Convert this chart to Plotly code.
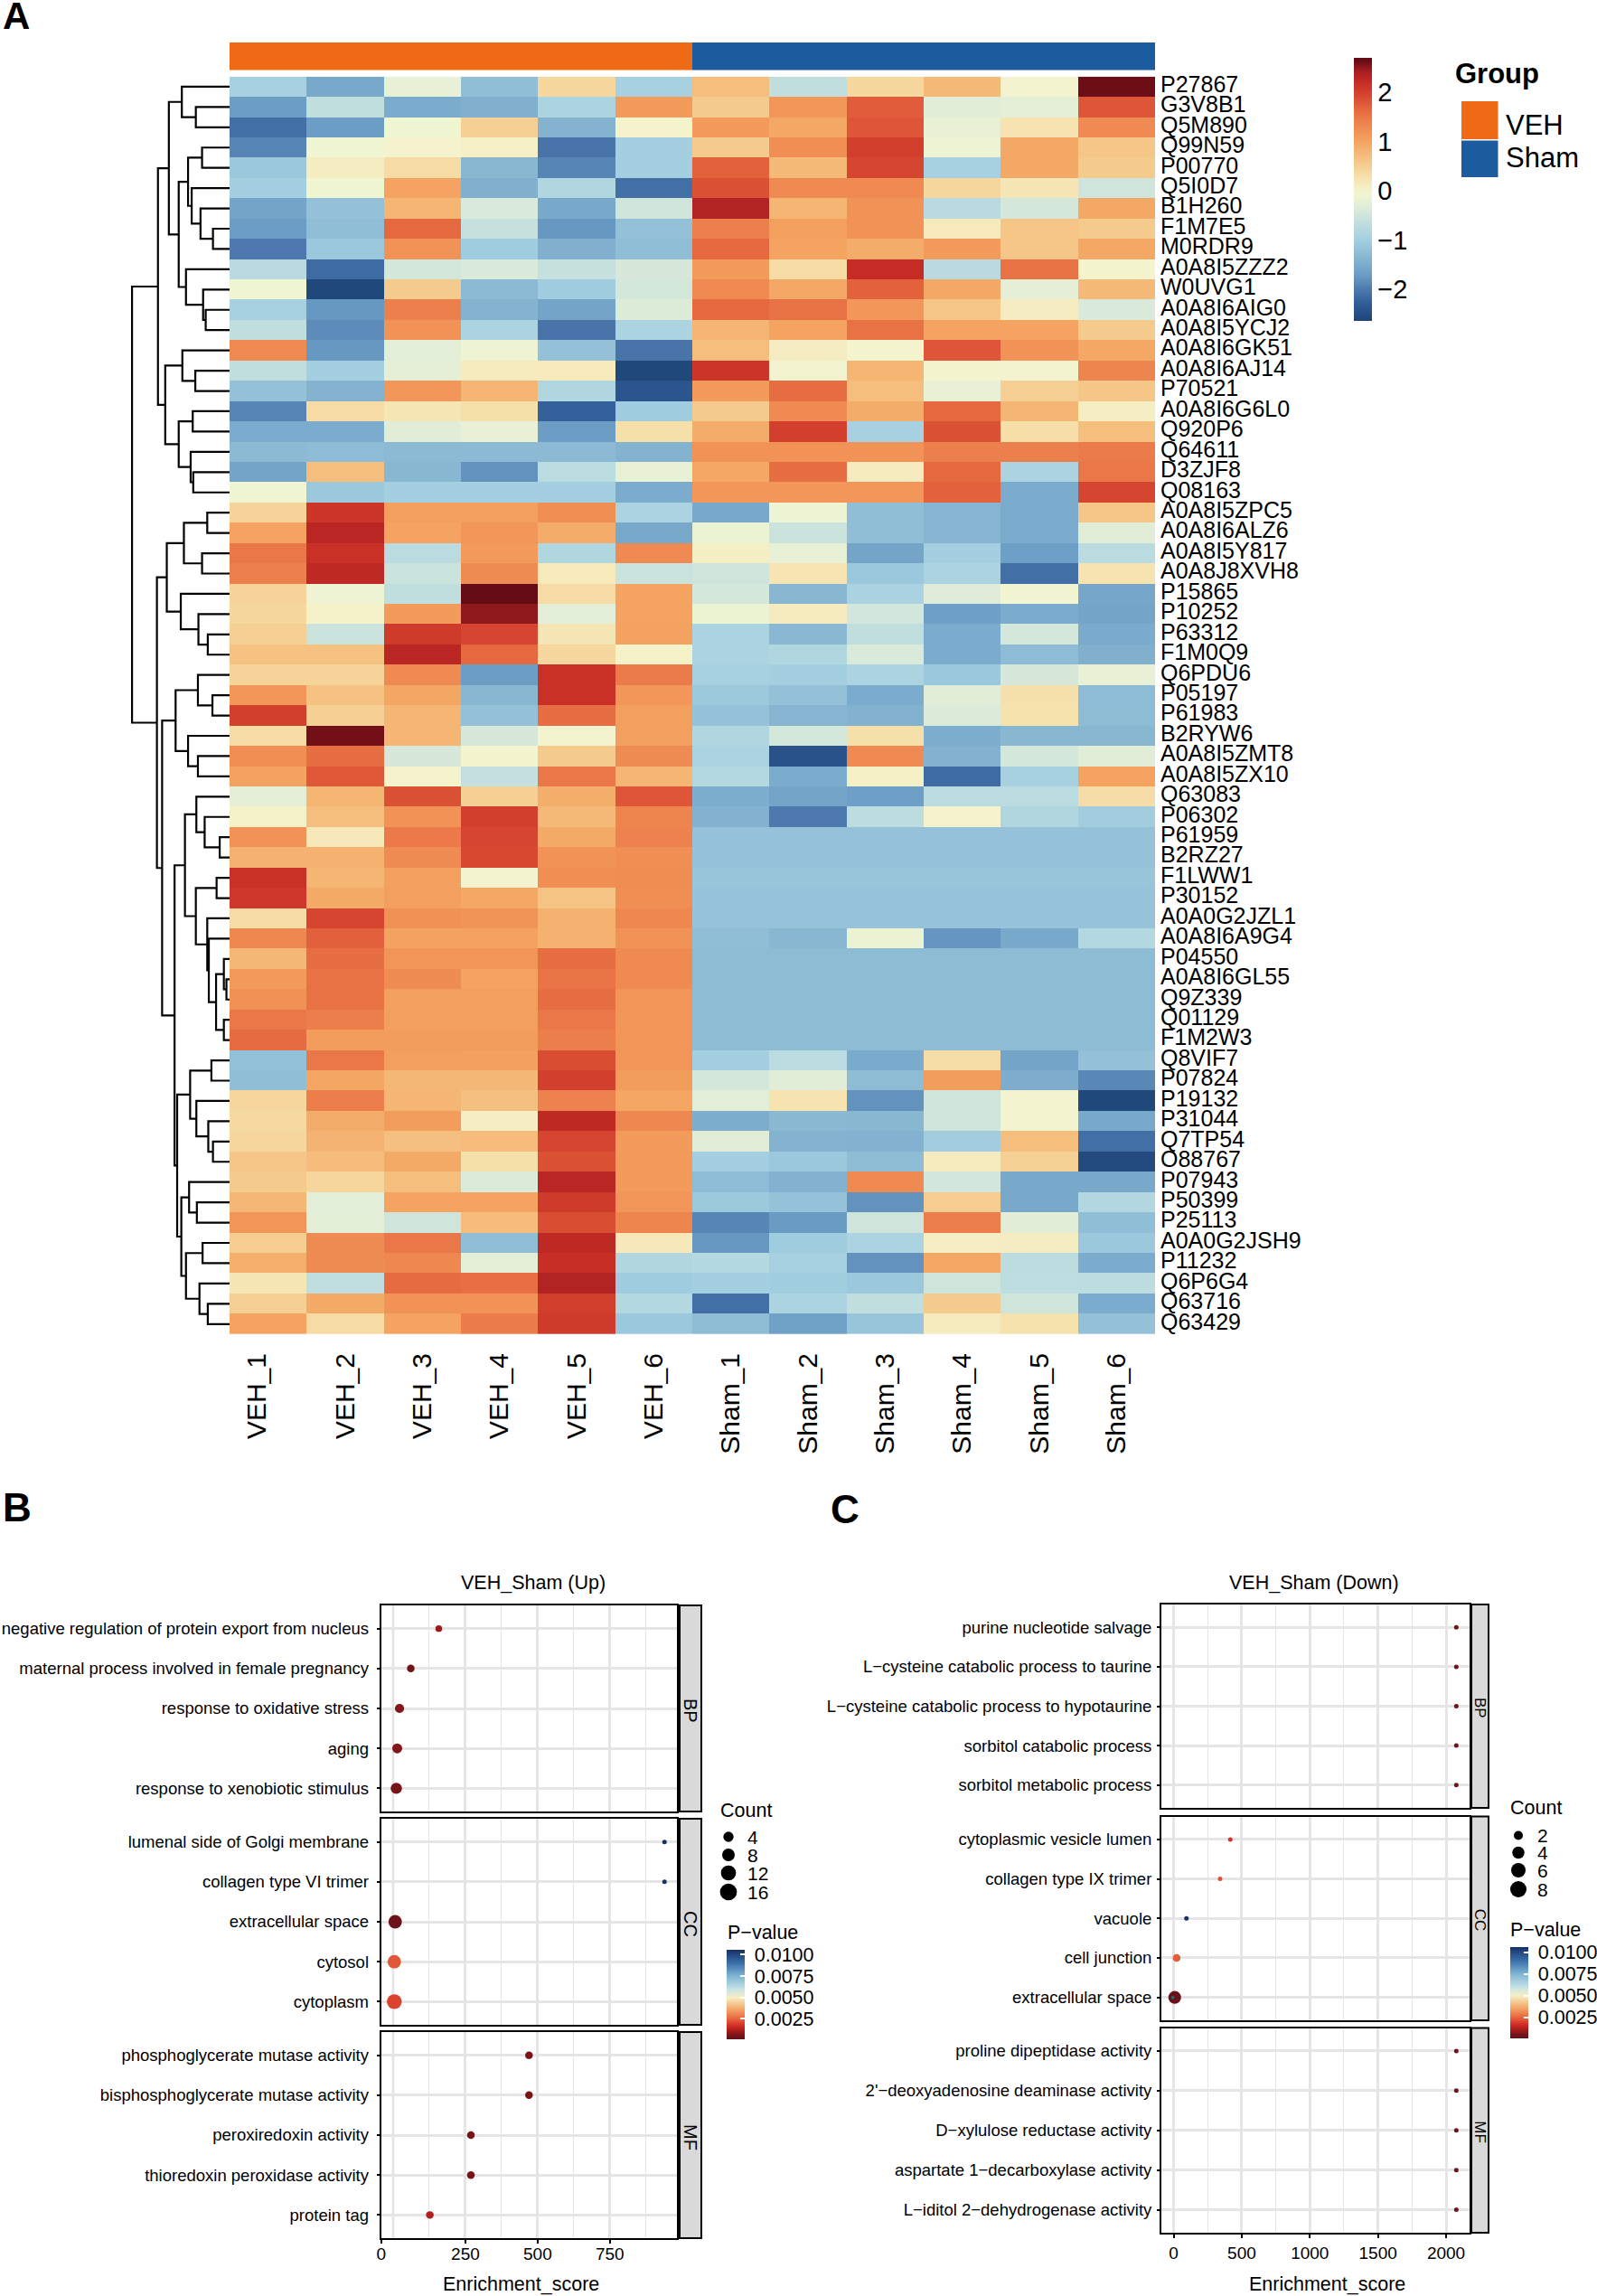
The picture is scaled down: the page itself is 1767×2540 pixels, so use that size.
import plotly.graph_objects as go

W, H = 1767, 2540
FONT = "Liberation Sans"

# ---------- Panel A data ----------
PROTEINS = ["P27867","G3V8B1","Q5M890","Q99N59","P00770","Q5I0D7","B1H260","F1M7E5","M0RDR9","A0A8I5ZZZ2",
"W0UVG1","A0A8I6AIG0","A0A8I5YCJ2","A0A8I6GK51","A0A8I6AJ14","P70521","A0A8I6G6L0","Q920P6","Q64611","D3ZJF8",
"Q08163","A0A8I5ZPC5","A0A8I6ALZ6","A0A8I5Y817","A0A8J8XVH8","P15865","P10252","P63312","F1M0Q9","Q6PDU6",
"P05197","P61983","B2RYW6","A0A8I5ZMT8","A0A8I5ZX10","Q63083","P06302","P61959","B2RZ27","F1LWW1",
"P30152","A0A0G2JZL1","A0A8I6A9G4","P04550","A0A8I6GL55","Q9Z339","Q01129","F1M2W3","Q8VIF7","P07824",
"P19132","P31044","Q7TP54","O88767","P07943","P50399","P25113","A0A0G2JSH9","P11232","Q6P6G4","Q63716","Q63429"]
SAMPLES = ["VEH_1","VEH_2","VEH_3","VEH_4","VEH_5","VEH_6","Sham_1","Sham_2","Sham_3","Sham_4","Sham_5","Sham_6"]
GROUP_CODE = [0,0,0,0,0,0,1,1,1,1,1,1]
B = -1.27
Z = [
[-.95,-1.55,-.2,-1.25,.4,-.95,.7,-.65,.4,.75,-.05,2.62],
[-1.7,-.65,-1.5,-1.45,-.9,1.1,.55,1.15,1.75,-.3,-.25,1.8],
[-2.1,-1.7,-.1,.5,-1.4,0,1.1,.95,1.8,-.2,.25,1.3],
[-1.9,-.1,-.02,.05,-2.05,-1.0,.55,1.25,2.0,-.12,.95,.6],
[-1.1,.1,.35,-1.35,-1.9,-1.0,1.7,.75,1.95,-.95,.95,.55],
[-1.0,-.1,1.0,-1.45,-.85,-2.1,1.85,1.3,1.3,.4,.2,-.5],
[-1.6,-1.2,.8,-.4,-1.55,-.5,2.35,.8,1.2,-.75,-.45,.95],
[-1.7,-1.25,1.65,-.6,-1.75,-1.2,1.4,1.05,1.2,.15,.6,.55],
[-2.0,-1.1,1.2,-1.05,-1.45,-1.25,1.65,1.0,.9,1.1,.6,.95],
[-.75,-2.15,-.45,-.4,-.6,-.42,1.1,.35,2.2,-.75,1.55,-.03],
[-.1,-2.6,.55,-1.3,-1.05,-.45,1.3,.95,1.7,.95,-.25,.75],
[-.95,-1.75,1.4,-1.4,-1.6,-.35,1.65,1.55,1.15,.6,.1,-.4],
[-.65,-1.85,1.2,-.9,-2.05,-.9,.8,1.0,1.55,1.0,1.0,.55],
[1.3,-1.75,-.28,-.12,-1.2,-2.05,.7,.1,-.03,1.8,1.2,.95],
[-.65,-1.0,-.25,.12,.15,-2.6,2.1,-.05,.8,-.03,-.05,1.35],
[-1.2,-1.4,1.15,.8,-.85,-2.4,1.1,1.6,.7,-.2,.5,.6],
[-1.9,.35,.2,.3,-2.25,-1.05,.55,1.3,.9,1.65,.8,.08],
[-1.5,-1.5,-.3,-.2,-1.7,.3,.9,2.0,-.95,1.85,.32,.7],
[-1.3,-1.28,-1.3,-1.3,-1.3,-1.4,1.2,1.2,1.2,1.4,1.4,1.45],
[-1.6,.7,-1.35,-1.8,-.72,-.2,.95,1.6,.12,1.65,-.9,1.5],
[-.1,-1.1,-1.0,-1.0,-1.0,-1.5,1.15,1.15,1.15,1.7,-1.5,1.95],
[.45,2.1,1.05,1.05,1.25,-.9,-1.55,-.12,-1.25,-1.38,-1.5,.6],
[1.0,2.3,1.0,1.15,.9,-1.55,-.15,-.55,-1.25,-1.38,-1.5,-.3],
[1.5,2.15,-.72,1.1,-.85,1.3,.06,-.2,-1.6,-1.0,-1.68,-.72],
[1.4,2.25,-.55,1.28,.15,-.55,-.5,.22,-1.1,-.9,-2.1,.25],
[.45,-.12,-.65,2.65,.35,1.0,-.45,-1.35,-.92,-.33,-.08,-1.58],
[.4,.02,1.1,2.5,-.28,1.0,-.15,.12,-.47,-1.68,-1.5,-1.6],
[.5,-.55,2.05,1.95,.2,1.02,-.9,-1.33,-.65,-1.5,-.45,-1.52],
[.65,.65,2.3,1.65,.4,.02,-.9,-.85,-.4,-1.5,-1.28,-1.45],
[.45,.45,1.3,-1.7,2.15,1.45,-.95,-1.0,-.9,-1.1,-.42,-.2],
[1.15,.65,.97,-1.35,2.15,1.15,-1.08,-1.2,-1.5,-.3,.28,-1.28],
[2.0,.5,.8,-1.2,1.6,1.05,-1.18,-1.38,-1.42,-.37,.27,-1.27],
[.35,2.6,.8,-.42,-.05,1.05,-.85,-.45,.3,-1.47,-1.35,-1.35],
[1.25,1.6,-.42,-.03,.55,1.28,-.9,-2.45,1.3,-1.42,-.45,-.3],
[1.02,1.78,0,-.62,1.5,.8,-.8,-1.5,.05,-2.15,-.95,1.0],
[-.25,.8,1.85,.5,.88,1.8,-1.47,-1.6,-1.68,-.72,-.72,.33],
[.02,.7,1.2,2.0,.75,1.35,-1.42,-2.0,-.7,0,-.85,-1.03],
[1.2,.18,1.47,1.95,.92,1.38,-1.18,-1.18,-1.18,-1.18,-1.18,-1.18],
[.85,.85,1.28,1.92,1.2,1.25,-1.18,-1.18,-1.18,-1.18,-1.18,-1.18],
[2.15,.8,1.03,-.05,1.25,1.27,-1.15,-1.15,-1.15,-1.15,-1.15,-1.15],
[2.08,.92,1.05,.95,.62,1.25,-1.17,-1.17,-1.17,-1.17,-1.17,-1.17],
[.35,1.95,1.22,1.18,.85,1.33,-1.17,-1.17,-1.17,-1.17,-1.17,-1.17],
[1.32,1.72,1.02,1.02,.85,1.2,-1.25,-1.35,-.15,-1.77,-1.55,-.8],
[.78,1.6,1.17,1.17,1.6,1.3,B,B,B,B,B,B],
[1.12,1.55,1.28,1.0,1.52,1.3,B,B,B,B,B,B],
[1.22,1.55,1.05,1.05,1.6,1.17,B,B,B,B,B,B],
[1.5,1.42,1.05,1.05,1.5,1.17,B,B,B,B,B,B],
[1.62,1.08,1.08,1.08,1.42,1.17,B,B,B,B,B,B],
[-1.22,1.5,1.05,1.03,1.88,1.17,-1.0,-.72,-1.52,.33,-1.6,-1.2],
[-1.25,.97,.78,.78,2.0,1.08,-.45,-.3,-1.27,1.08,-1.48,-1.88],
[.42,1.42,.8,.68,1.38,.98,-.28,.25,-1.8,-.5,-.05,-2.6],
[.38,.9,1.08,.08,2.25,1.32,-1.47,-1.32,-1.35,-.5,-.05,-1.55],
[.42,.82,.68,.72,1.95,1.1,-.3,-1.4,-1.42,-1.03,.7,-2.1],
[.6,.72,.93,.3,1.85,1.1,-1.0,-1.1,-1.27,.12,.47,-2.55],
[.55,.42,.7,-.37,2.3,1.1,-1.28,-1.42,1.3,-.47,-1.55,-1.55],
[.78,-.28,1.0,1.0,2.05,1.17,-1.08,-1.18,-1.8,.52,-1.55,-.82],
[1.17,-.27,-.5,.72,1.88,1.35,-1.9,-1.72,-.5,1.42,-.3,-1.25],
[.52,1.28,1.5,-1.25,2.25,.17,-1.75,-1.05,-.9,.08,.1,-1.1],
[.87,1.28,1.33,-.26,2.18,-.83,-.78,-.95,-1.8,.95,-.7,-1.5],
[.2,-.66,1.62,1.58,2.35,-1.05,-1.0,-1.02,-1.1,-.5,-.68,-.7],
[.5,.92,1.2,1.2,2.02,-.8,-2.1,-.9,-.65,.55,-.5,-1.5],
[1.0,.35,1.0,1.43,2.05,-1.1,-1.27,-1.65,-1.15,.12,.27,-1.2],
]

# Row clustering: (height, left, right), leaves are row indices
TOP_A = (117,(92,0,(65,1,2)),(98,(80,(53,3,4),(73,5,(56,6,(32,7,8)))),(84,9,(51,10,(46,11,12)))))
TOP_B = (124,(91,13,(66,14,15)),(98,(71,16,17),(75,18,(70,19,20))))
LOW_A = (121,(88,(43,21,22),(53,23,24)),(94,25,(60,26,(42,27,28))))
LOW_B1 = (104,(61,29,(33,30,31)),(80,32,(61,33,34)))
LOW_B2A = (86,(64,35,(48,36,(19,37,38))),(65,(25,39,40),(43,41,(40,42,(26,(11,43,(6,44,45)),(11,46,47))))))
LOW_B2B = (101,(76,(35,48,49),(64,50,(41,51,(32,52,53)))),(93,(78,54,(63,55,56)),(84,(52,57,58),(58,59,(42,60,61)))))
LOW_B2 = (106,LOW_B2A,LOW_B2B)
LOWER = (140,LOW_A,(130,LOW_B1,LOW_B2))
DENDRO = (188,(138,TOP_A,TOP_B),LOWER)

# ---------- Panels B / C data ----------
B_BP = ["negative regulation of protein export from nucleus","maternal process involved in female pregnancy","response to oxidative stress","aging","response to xenobiotic stimulus"]
B_CC = ["lumenal side of Golgi membrane","collagen type VI trimer","extracellular space","cytosol","cytoplasm"]
B_MF = ["phosphoglycerate mutase activity","bisphosphoglycerate mutase activity","peroxiredoxin activity","thioredoxin peroxidase activity","protein tag"]
B_SCORE = [[158,61,22,14,11],[939,939,7,4,4],[470,470,269,269,127]]
B_COUNT = [[4,5,7,8,10],[2,2,14,14,17],[5,5,5,5,5]]
B_P = [[.0010,.0004,.0007,.0007,.0005],[.0105,.0105,.0003,.0023,.0020],[.0005,.0005,.0005,.0005,.0012]]

C_BP = ["purine nucleotide salvage","L\u2212cysteine catabolic process to taurine","L\u2212cysteine catabolic process to hypotaurine","sorbitol catabolic process","sorbitol metabolic process"]
C_CC = ["cytoplasmic vesicle lumen","collagen type IX trimer","vacuole","cell junction","extracellular space"]
C_MF = ["proline dipeptidase activity","2'\u2212deoxyadenosine deaminase activity","D\u2212xylulose reductase activity","aspartate 1\u2212decarboxylase activity","L\u2212iditol 2\u2212dehydrogenase activity"]
C_SCORE = [[2075]*5,[416,341,94,22,8],[2075]*5]
C_COUNT = [[1]*5,[1,1,1,3,8],[1]*5]
C_P = [[.0004]*5,[.0018,.0022,.0105,.0024,.0002],[.0004]*5]

# ---------- Colours ----------
VMIN, VMAX = -2.64, 2.70
HEAT_STOPS = [(-2.64,"#1f4577"),(-2.3,"#2f5c98"),(-2.0,"#4d79ae"),(-1.7,"#6c9ec5"),(-1.3,"#8cbad4"),(-1.0,"#a3cfe0"),
(-.7,"#bcdce0"),(-.4,"#d9e9da"),(-.1,"#f0f5d2"),(0,"#f5f3cc"),(.3,"#f6e0aa"),(.6,"#f5c687"),(1.0,"#f4a460"),
(1.3,"#ef8a52"),(1.65,"#e6683f"),(1.95,"#d5452f"),(2.2,"#c62c25"),(2.4,"#ab2022"),(2.65,"#650c14"),(2.7,"#620c14")]
HEAT_SCALE = [[(v-VMIN)/(VMAX-VMIN),c] for v,c in HEAT_STOPS]
PMIN, PMAX = .0001, .01057
P_STOPS = [(.0001,"#64101a"),(.0006,"#7a1518"),(.0012,"#b21d1d"),(.0018,"#d6342a"),(.0025,"#e8653f"),(.0037,"#f4ab6c"),
(.0050,"#f6efc6"),(.0060,"#c4e2e6"),(.0075,"#7fb4d4"),(.0090,"#3a70aa"),(.01057,"#172f68")]
P_SCALE = [[(v-PMIN)/(PMAX-PMIN),c] for v,c in P_STOPS]
ORANGE, BLUE = "#ee6a15", "#1c5b9d"

fig = go.Figure()
layout = {}
shapes, annos = [], []

def px(x): return x/W
def py(y): return 1-y/H
def dom(a,b): return [px(a),px(b)]
def domy(top,bot): return [py(bot),py(top)]

def text(x,y,s,size,anchor="left",bold=False,angle=0,color="black"):
    annos.append(dict(x=px(x),y=py(y),xref="paper",yref="paper",text=f"<b>{s}</b>" if bold else s,showarrow=False,
        xanchor=anchor,yanchor="middle",textangle=angle,font=dict(family=FONT,size=size,color=color),
        borderpad=0,borderwidth=0))

HL,HR,HT,HB = 254,1278,84.7,1476
nrow = len(PROTEINS)
rows = list(range(nrow)); cols = list(range(len(SAMPLES)))

# Heatmap
fig.add_trace(go.Heatmap(z=Z,x=cols,y=rows,colorscale=HEAT_SCALE,zmin=VMIN,zmax=VMAX,xaxis="x",yaxis="y",xgap=0,ygap=0,
    colorbar=dict(x=px(1498.3),xanchor="left",xpad=0,y=py(64),yanchor="top",ypad=0,len=291,lenmode="pixels",thickness=19.5,
        thicknessmode="pixels",outlinewidth=0,ticks="",tickvals=[2,1,0,-1,-2],ticktext=["2","1","0","\u22121","\u22122"],
        tickfont=dict(family=FONT,size=29,color="black"))))
xt = list(cols); xt[0] = -0.14
yt = [r-0.13 for r in rows]
layout["xaxis"] = dict(domain=dom(HL,HR),range=[-.5,11.5],tickvals=xt,ticktext=SAMPLES,tickangle=-90,anchor="y",automargin=False,
    tickfont=dict(family=FONT,size=30,color="black"),ticks="",showgrid=False,zeroline=False,showline=False,ticklabelstandoff=14)
layout["yaxis"] = dict(domain=domy(HT,HB),range=[nrow-.5,-.5],tickvals=yt,ticktext=PROTEINS,side="right",anchor="x",automargin=False,
    tickfont=dict(family=FONT,size=25,color="black"),ticks="",showgrid=False,zeroline=False,showline=False,ticklabelstandoff=5)

# Annotation bar
fig.add_trace(go.Heatmap(z=[GROUP_CODE],x=cols,y=["Group"],colorscale=[[0,ORANGE],[.5,ORANGE],[.5,BLUE],[1,BLUE]],zmin=0,zmax=1,
    showscale=False,xaxis="x2",yaxis="y2"))
layout["xaxis2"] = dict(domain=dom(HL,HR),range=[-.5,11.5],visible=False,anchor="y2")
layout["yaxis2"] = dict(domain=domy(47,77.5),visible=False,anchor="x2")

# Dendrogram
dx, dy = [], []
def walk(n):
    if isinstance(n,int): return 0,n
    h,l,r = n
    hl,yl = walk(l); hr,yr = walk(r)
    dx.extend([hl,h,h,hr,None]); dy.extend([yl,yl,yr,yr,None])
    return h,(yl+yr)/2
walk(DENDRO)
fig.add_trace(go.Scatter(x=dx,y=dy,mode="lines",line=dict(color="black",width=2.2),xaxis="x3",yaxis="y3",showlegend=False,hoverinfo="skip"))
layout["xaxis3"] = dict(domain=dom(HL-192/1.742,HL),range=[192,0],visible=False,anchor="y3")
layout["yaxis3"] = dict(domain=domy(HT,HB),range=[nrow-.5,-.5],visible=False,anchor="x3")

# Group legend
shapes.append(dict(type="rect",xref="paper",yref="paper",x0=px(1617),x1=px(1657.5),y0=py(112),y1=py(154),fillcolor=ORANGE,line_width=0))
shapes.append(dict(type="rect",xref="paper",yref="paper",x0=px(1617),x1=px(1657.5),y0=py(155.5),y1=py(196),fillcolor=BLUE,line_width=0))
text(1610,81,"Group",31,bold=True)
text(1666,139,"VEH",31)
text(1666,175,"Sham",31)
text(3,1667,"B",44,bold=True)
text(919,1669,"C",44,bold=True)

axn = [3]
def panel(L,R,strip,tops,bots,labels,scores,counts,pvals,xr,major,minor,xtv,xtt,dfun,cb,title,strip_size,standoff,xtitle_x,xstand):
    for i in range(3):
        axn[0]+=1; k=axn[0]
        d=[dfun(c) for c in counts[i]]
        fig.add_trace(go.Scatter(x=scores[i],y=labels[i],mode="markers",xaxis=f"x{k}",yaxis=f"y{k}",showlegend=False,
            marker=dict(size=d,color=pvals[i],colorscale=P_SCALE,cmin=PMIN,cmax=PMAX,line_width=0,opacity=1,
                showscale=(i==0),colorbar=cb if i==0 else None)))
        xa=dict(domain=dom(L,R),range=xr,anchor=f"y{k}",showline=True,mirror=True,linecolor="black",linewidth=2,zeroline=False,automargin=False,
            tickvals=xtv,ticktext=xtt,showgrid=True,gridcolor="#e5e5e5",gridwidth=2.7,layer="below traces",
            minor=dict(tickvals=minor,showgrid=True,gridcolor="#e5e5e5",gridwidth=1.4,ticks=""))
        if i==2:
            xa.update(ticks="outside",ticklen=4,tickwidth=2,tickcolor="black",tickfont=dict(family=FONT,size=19,color="black"),
                      showticklabels=True,ticklabelstandoff=xstand)
        else:
            xa.update(ticks="",showticklabels=False)
        ya=dict(domain=domy(tops[i],bots[i]),anchor=f"x{k}",type="category",categoryorder="array",categoryarray=labels[i],automargin=False,
            range=[4.58,-.58],showline=True,mirror=True,linecolor="black",linewidth=2,zeroline=False,ticks="outside",ticklen=3,
            tickwidth=2.4,tickcolor="black",showgrid=True,gridcolor="#e5e5e5",gridwidth=2.7,
            tickfont=dict(family=FONT,size=18.5,color="black"),ticklabelstandoff=standoff)
        layout[f"xaxis{k}"]=xa; layout[f"yaxis{k}"]=ya
        if major is not None:
            shapes.append(dict(type="line",xref=f"x{k}",yref=f"y{k} domain",x0=major,x1=major,y0=0,y1=1,
                line=dict(color="#e5e5e5",width=2.7),layer="below"))
        shapes.append(dict(type="rect",xref="paper",yref="paper",x0=px(strip[0]),x1=px(strip[1]),y0=py(bots[i]),y1=py(tops[i]),
            fillcolor="#d9d9d9",line=dict(color="black",width=2)))
        text((strip[0]+strip[1])/2,(tops[i]+bots[i])/2+2,["BP","CC","MF"][i],strip_size,anchor="center",angle=90)
    text(title[2],title[1],title[0],21.5,anchor="center")
    text(xtitle_x,2527,"Enrichment_score",21.5,anchor="center")

def cbar(x,top,bot,thick):
    return dict(x=px(x),xanchor="left",xpad=0,y=py(top),yanchor="top",ypad=0,len=bot-top,lenmode="pixels",thickness=thick,
        thicknessmode="pixels",outlinewidth=0,ticks="inside",ticklen=5,tickwidth=1.5,tickcolor="white",
        tickvals=[.01,.0075,.005,.0025],ticktext=["\u00a00.0100","\u00a00.0075","\u00a00.0050","\u00a00.0025"],
        tickfont=dict(family=FONT,size=21.5,color="black"))

panel(421.7,749,(752,776),[1776,2012,2248],[2004,2240,2476],[B_BP,B_CC,B_MF],B_SCORE,B_COUNT,B_P,[-41.6,982],0,
      [125,375,625,875],[-41.6,250,500,750],["0","250","500","750"],lambda c:4.24*c**.5-1,cbar(804,2157,2256,20),
      ("VEH_Sham (Up)",1751,590),20,5,576,-5)
panel(1285,1625.5,(1628,1647),[1775,2009.6,2243.5],[2000,2235,2470],[C_BP,C_CC,C_MF],C_SCORE,C_COUNT,C_P,[-90,2169],None,
      [250,750,1250,1750],[0,500,1000,1500,2000],["0","500","1000","1500","2000"],lambda c:5*c**.5,cbar(1671,2154,2254.5,20),
      ("VEH_Sham (Down)",1751,1454),17,2,1468,0)

# Small point inside the large extracellular-space dot of panel C
fig.add_trace(go.Scatter(x=[-6],y=[C_CC[4]],mode="markers",xaxis="x8",yaxis="y8",showlegend=False,marker=dict(size=3.5,color="#1f6f6f",line_width=0)))

# Size legends
def size_legend(xd,ys,diams,xl,labels,tx,ty,px_title,py_title):
    for y,d,l in zip(ys,diams,labels):
        shapes.append(dict(type="circle",xref="paper",yref="paper",x0=px(xd-d/2),x1=px(xd+d/2),y0=py(y+d/2),y1=py(y-d/2),fillcolor="black",line_width=0))
        text(xl,y,l,21)
    text(tx,ty,"Count",21.5)
    text(px_title,py_title,"P\u2212value",21.5)
size_legend(806,[2032,2052,2072,2093],[11.3,14,16.7,18.7],827,["4","8","12","16"],797,2003,805,2138)
size_legend(1680,[2030.5,2049.6,2069,2090],[10,13.5,16,18],1701,["2","4","6","8"],1671,2000,1671,2135)

fig.update_layout(width=W,height=H,autosize=False,margin=dict(l=0,r=0,t=0,b=0,autoexpand=False),paper_bgcolor="white",plot_bgcolor="white",
    showlegend=False,font=dict(family=FONT,color="black"),shapes=shapes,annotations=annos,
    title=dict(text="<b>A</b>",x=px(3),xref="paper",xanchor="left",y=py(17),yref="paper",yanchor="middle",font=dict(family=FONT,size=42,color="black")),
    **layout)
fig.write_html("out.html",config=dict(displayModeBar=False),post_script="document.body.style.margin='0';document.documentElement.style.margin='0';")
